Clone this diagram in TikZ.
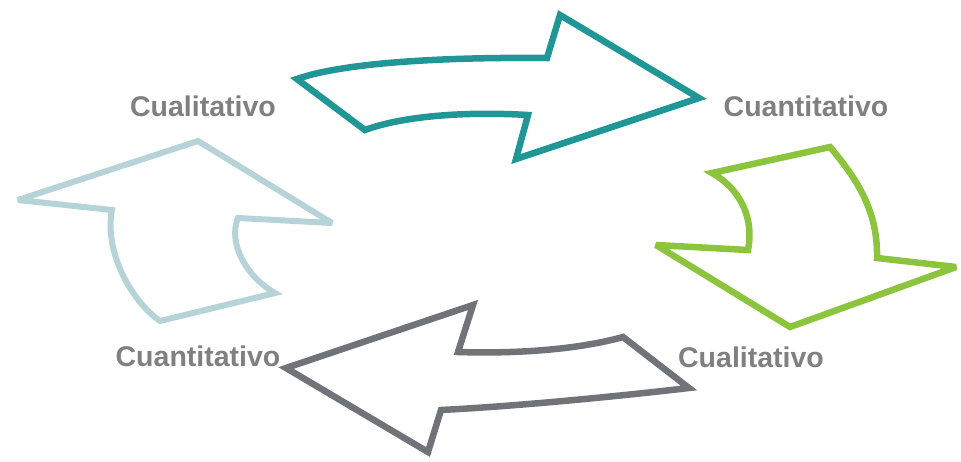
\documentclass[tikz,border=0pt]{standalone}
\usepackage{fontspec}
\setmainfont{Liberation Sans}
\definecolor{tealc}{RGB}{32,150,150}
\definecolor{greenc}{RGB}{141,196,62}
\definecolor{grayc}{RGB}{112,116,120}
\definecolor{bluec}{RGB}{182,211,216}
\definecolor{textc}{RGB}{128,128,128}
\tikzset{
  shp/.style={line width=6.5pt, line join=miter, miter limit=4, fill=white},
  lbl/.style={font=\fontsize{28.5}{32}\selectfont\bfseries, text=textc, inner sep=0pt}
}
\begin{document}
\begin{tikzpicture}[x=1pt,y=-1pt]
\useasboundingbox (0,0) rectangle (961,461);
% teal arrow (right)
\draw[shp, draw=tealc] (297,79) .. controls (345,62) and (450,57) .. (547,58) -- (560,15) -- (699,98) -- (516,159) -- (528,115) .. controls (460,111) and (400,117) .. (365,130) -- cycle;
% green arrow (down)
\draw[shp, draw=greenc] (712,173) -- (830,147) .. controls (858,180) and (878,212) .. (877,258) -- (956,267) -- (790,327) -- (656,245) -- (748,250) .. controls (754,220) and (742,190) .. (712,173) -- cycle;
% gray arrow (left)
\draw[shp, draw=grayc] (623,337) -- (689,388) .. controls (620,396) and (520,406) .. (441,410) -- (428,452) -- (286,368) -- (473,305) -- (458,352) .. controls (520,354) and (580,349) .. (623,337) -- cycle;
% light blue arrow (up)
\draw[shp, draw=bluec, line width=6pt] (198,141) -- (332,223) -- (238,218) .. controls (228,242) and (245,276) .. (275,293) -- (160,321) .. controls (130,300) and (104,250) .. (112,210) -- (18,200) -- cycle;
% labels
\node[lbl] (qual1) at (203,106) {Cualitativo};
\node[lbl] (quan1) at (806,106) {Cuantitativo};
\node[lbl] (quan2) at (198,356) {Cuantitativo};
\node[lbl] (qual2) at (751,357) {Cualitativo};
\end{tikzpicture}
\end{document}
